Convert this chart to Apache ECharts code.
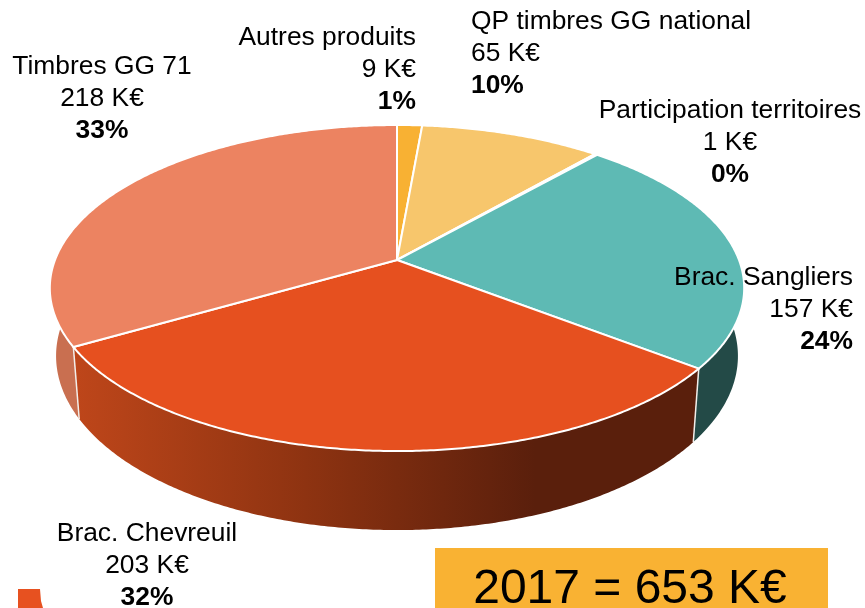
<!DOCTYPE html>
<html>
<head>
<meta charset="utf-8">
<style>html,body{margin:0;padding:0;background:#fff}#c{width:865px;height:608px}</style>
<script src="https://cdn.jsdelivr.net/npm/echarts@6/dist/echarts.min.js"></script>
</head>
<body>
<div id="c"></div>
<script>
// Data
const categories = ['Autres produits', 'QP timbres GG national', 'Participation territoires', 'Brac. Sangliers', 'Brac. Chevreuil', 'Timbres GG 71'];
const valuesKE = [9, 65, 1, 157, 203, 218];
const percents = ['1%', '10%', '0%', '24%', '32%', '33%'];
const totalLabel = '2017 = 653 K€';

// Styles
const topColors = ['#F8B133', '#F7C66C', '#5EBAB4', '#5EBAB4', '#E6501F', '#EC8361'];
const sideColors = ['#B8842A', '#B8944F', '#234A47', '#234A47', null, '#C96F50'];
const FONT = '"Liberation Sans", Arial, sans-serif';
const FONT_SIZE = 26.4;
const LINE_H = 32;

// Perspective projection of the pie disc
const P = { cx: 397, cy: 260, A: 342, B: 158.2, k: 0.172, sideX: 0.982, sideY: 1.068, sideD: 66 };
// Label anchors (x, y of first line centre, alignment)
const labelLayout = [
  { x: 416, y: 38, align: 'right' },
  { x: 471, y: 22, align: 'left' },
  { x: 730, y: 111, align: 'center' },
  { x: 853, y: 278, align: 'right' },
  { x: 147, y: 534, align: 'center' },
  { x: 102, y: 67, align: 'center' }
];

const total = valuesKE.reduce((a, b) => a + b, 0);
const cumul = [];
valuesKE.reduce((s, v, i) => { cumul[i] = s; return s + v; }, 0);

function topPt(t) {
  const u = Math.sin(t), v = -Math.cos(t), d = 1 - P.k * v;
  return [P.A * u / d, P.B * v / d];
}
const upper = t => { const p = topPt(t); return [P.cx + p[0], P.cy + p[1]]; };
const lower = t => { const p = topPt(t); return [P.cx + p[0] * P.sideX, P.cy + p[1] * P.sideY + P.sideD]; };

function arc(fn, a0, a1) {
  const n = Math.max(2, Math.ceil((a1 - a0) / (Math.PI / 360)));
  const out = [];
  for (let i = 0; i <= n; i++) out.push(fn(a0 + (a1 - a0) * i / n));
  return out;
}

const sideGradient = new echarts.graphic.LinearGradient(75, 0, 535, 0, [
  { offset: 0, color: '#BE461A' },
  { offset: 0.5, color: '#8E3311' },
  { offset: 1, color: '#5A1F0C' }
], true);

function renderItem(params, api) {
  const i = params.dataIndex;
  const a0 = cumul[i] / total * 2 * Math.PI;
  const a1 = (cumul[i] + api.value(1)) / total * 2 * Math.PI;
  const rimTop = arc(upper, a0, a1), rimLow = arc(lower, a0, a1);
  const children = [];
  // wall
  children.push({
    type: 'polygon', z2: 1,
    shape: { points: rimTop.concat(rimLow.slice().reverse()) },
    style: { fill: sideColors[i] || sideGradient, stroke: null }
  });
  // wall edge at the end of the slice
  children.push({
    type: 'polyline', z2: 2,
    shape: { points: [upper(a1), lower(a1)] },
    style: { stroke: '#F2EEEA', lineWidth: 1.5, fill: null }
  });
  // top face
  children.push({
    type: 'polygon', z2: 3,
    shape: { points: [[P.cx, P.cy]].concat(rimTop) },
    style: { fill: topColors[i], stroke: '#fff', lineWidth: 2, lineJoin: 'round' }
  });
  // labels
  const L = labelLayout[i];
  const lines = [
    { t: categories[i], w: 'normal' },
    { t: api.value(1) + ' K€', w: 'normal' },
    { t: percents[i], w: 'bold' }
  ];
  lines.forEach((ln, j) => children.push({
    type: 'text', z2: 5,
    style: {
      text: ln.t, x: L.x, y: L.y + j * LINE_H, align: L.align, verticalAlign: 'middle',
      font: ln.w + ' ' + FONT_SIZE + 'px ' + FONT, fill: '#000'
    }
  }));
  return { type: 'group', children };
}

const chart = echarts.init(document.getElementById('c'), null, { renderer: 'canvas' });
chart.setOption({
  animation: false,
  backgroundColor: '#fff',
  series: [{
    type: 'custom',
    coordinateSystem: 'none',
    silent: true,
    renderItem,
    data: categories.map((c, i) => [c, valuesKE[i]])
  }],
  graphic: [
    { type: 'rect', shape: { x: 435, y: 548, width: 393, height: 60 }, style: { fill: '#F9B233' }, z: 10 },
    { type: 'text', z: 11, style: { text: totalLabel, x: 630, y: 590, align: 'center', verticalAlign: 'middle', font: '48px ' + FONT, fill: '#000' } },
    { type: 'polygon', z: 10, shape: { points: [[18, 589], [40, 589], [41, 601], [43, 608], [18, 608]] }, style: { fill: '#E75120' } }
  ]
});
</script>
</body>
</html>
